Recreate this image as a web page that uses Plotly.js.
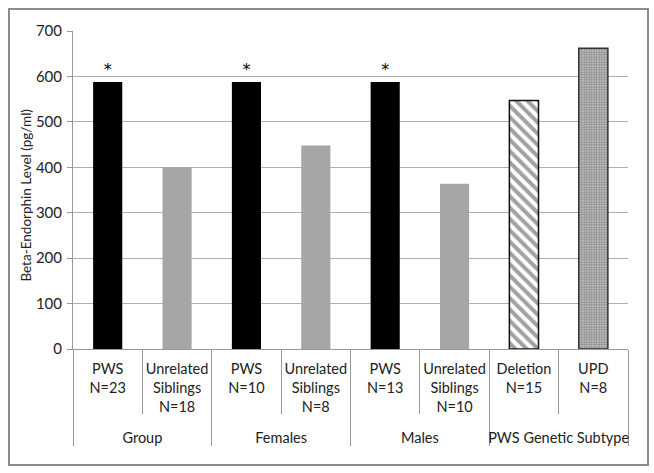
<!DOCTYPE html>
<html><head><meta charset="utf-8">
<script src="https://cdn.plot.ly/plotly-3.0.1.min.js"></script>
<style>
body{margin:0;background:#fff;}
#chart{position:absolute;left:0;top:0;width:654px;height:473px;}
#frame{position:absolute;left:8px;top:8px;width:637px;height:454px;border:2px solid #8c8c8c;pointer-events:none;}
</style></head>
<body>
<div id="chart"></div><div id="frame"></div>
<script>
const groups = ["<br>Group","<br>Group","<br>Females","<br>Females","<br>Males","<br>Males","<br>PWS Genetic Subtype","<br>PWS Genetic Subtype"];
const categories = ["PWS<br>N=23","Unrelated<br>Siblings<br>N=18","PWS<br>N=10","Unrelated<br>Siblings<br>N=8","PWS<br>N=13","Unrelated<br>Siblings<br>N=10","Deletion<br>N=15","UPD<br>N=8"];
const values = [588, 400, 588, 448, 588, 364, 547, 662];
const marks = ["*","","*","","*","","",""];
const yTitle = "Beta-Endorphin Level (pg/ml)";
const colors = ["#000000","#a6a6a6","#000000","#a6a6a6","#000000","#a6a6a6","#ffffff","#c8c8c8"];
const patterns = ["","","","","","","\\","."];

const trace = {
  type:"bar",
  x:[groups, categories],
  y:values,
  text:marks,
  textposition:"outside",
  cliponaxis:false,
  textfont:{family:"DejaVu Sans", size:16, color:"#000"},
  marker:{
    color:colors,
    line:{color:["#000","#a6a6a6","#000","#a6a6a6","#000","#a6a6a6","#111","#333"], width:[0,0,0,0,0,0,1.5,1.5]},
    pattern:{
      shape:patterns,
      fgcolor:"#1a1a1a",
      size:[8,8,8,8,8,8,8,2.5],
      solidity:[0.3,0.3,0.3,0.3,0.3,0.3,0.5,0.5],
      fillmode:"overlay"
    }
  },
  hoverinfo:"none"
};

const layout = {
  width:654, height:473,
  margin:{l:73, r:26, t:31, b:124},
  paper_bgcolor:"#fff", plot_bgcolor:"#fff",
  font:{family:"Lato, 'Open Sans', sans-serif", size:14.5, color:"#222"},
  bargap:0.58,
  showlegend:false,
  yaxis:{
    range:[0,700], dtick:100, showgrid:true, gridcolor:"#b0b0b0", gridwidth:1,
    showline:true, linecolor:"#999", linewidth:1,
    ticks:"outside", ticklen:5, tickcolor:"#999",
    ticklabelstandoff:2,
    zeroline:false,
    tickfont:{size:15, color:"#222"}
  },
  xaxis:{
    type:"multicategory",
    tickangle:0,
    ticklabelstandoff:7,
    showline:true, linecolor:"#999", linewidth:1,
    ticks:"outside", ticklen:64, tickcolor:"#999", tickson:"boundaries",
    showdividers:true, dividercolor:"#999", dividerwidth:1,
    tickfont:{size:14.5, color:"#222"},
    showgrid:false
  },
  annotations:[{
    text:yTitle, textangle:-90, showarrow:false,
    xref:"paper", yref:"paper", x:-0.085, y:0.485, xanchor:"center", yanchor:"middle",
    font:{size:13.5, color:"#222"}
  }]
};
Plotly.newPlot("chart",[trace],layout,{displayModeBar:false, staticPlot:true});
</script>
</body></html>
